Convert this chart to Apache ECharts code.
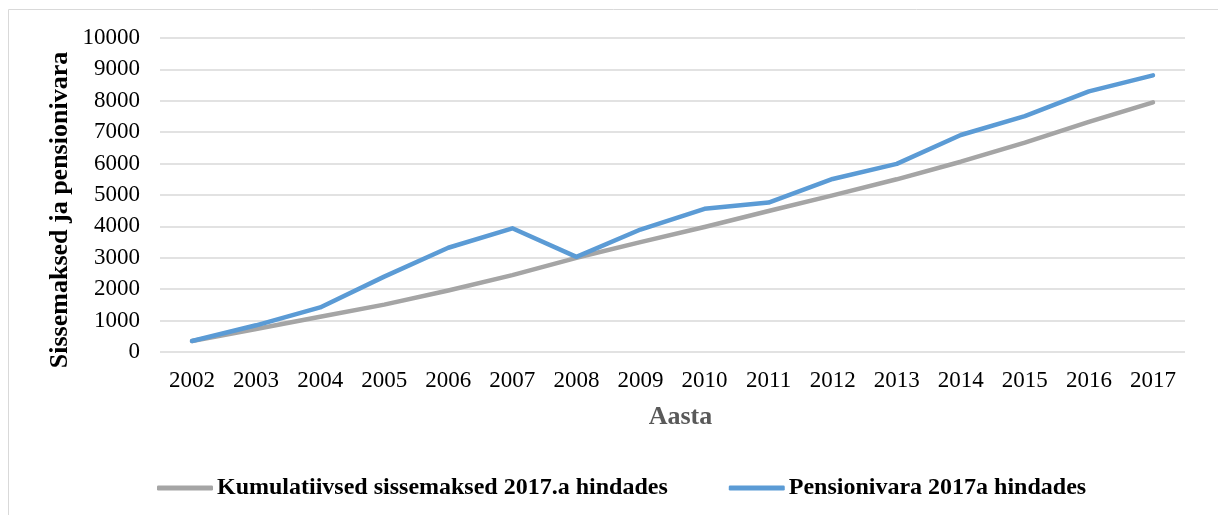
<!DOCTYPE html>
<html>
<head>
<meta charset="utf-8">
<script src="https://cdn.jsdelivr.net/npm/echarts@6/dist/echarts.min.js"></script>
<style>html,body{margin:0;padding:0;background:#fff}#c{width:1218px;height:515px}</style>
</head>
<body>
<div id="c"></div>
<script>
var years = ['2002','2003','2004','2005','2006','2007','2008','2009','2010','2011','2012','2013','2014','2015','2016','2017'];
var sissemaksed = [350, 730, 1120, 1510, 1960, 2450, 3000, 3500, 3980, 4490, 4990, 5500, 6060, 6670, 7330, 7950];
var pensionivara = [350, 850, 1420, 2400, 3320, 3940, 3030, 3900, 4560, 4760, 5510, 5990, 6910, 7510, 8300, 8810];
var yTicks = [0, 1000, 2000, 3000, 4000, 5000, 6000, 7000, 8000, 9000, 10000];

var font = '"Liberation Serif", "Times New Roman", serif';
var chart = echarts.init(document.getElementById('c'));
chart.setOption({
  animation: false,
  graphic: [{
    type: 'rect', silent: true,
    shape: {x: 8.5, y: 9.5, width: 1400, height: 700},
    style: {fill: 'none', stroke: '#d9d9d9', lineWidth: 1}
  }, {
    type: 'text', silent: true,
    x: 60, y: 210, rotation: Math.PI / 2,
    style: {
      text: 'Sissemaksed ja pensionivara',
      font: 'bold 26px "Liberation Serif", "Times New Roman", serif',
      fill: '#000', align: 'center', verticalAlign: 'middle'
    }
  }],
  grid: {left: 160, right: 33, top: 38, bottom: 163},
  legend: {
    left: 152, top: 471,
    itemWidth: 56, itemHeight: 5, itemGap: 61,
    icon: 'roundRect',
    textStyle: {fontFamily: font, fontSize: 24, fontWeight: 'bold', color: '#000', padding: [0,0,0,-1]},
    data: ['Kumulatiivsed sissemaksed 2017.a hindades', 'Pensionivara 2017a hindades']
  },
  xAxis: {
    type: 'category', data: years, boundaryGap: true,
    name: 'Aasta', nameLocation: 'middle', nameGap: 52,
    nameTextStyle: {fontFamily: font, fontSize: 26, fontWeight: 'bold', color: '#595959', padding: [0,0,0,16]},
    axisLine: {show: false}, axisTick: {show: false},
    axisLabel: {fontFamily: font, fontSize: 23, color: '#000', margin: 17}
  },
  yAxis: {
    type: 'value', min: yTicks[0], max: yTicks[yTicks.length-1], interval: 1000,
    axisLine: {show: false}, axisTick: {show: false},
    axisLabel: {fontFamily: font, fontSize: 23, color: '#000', margin: 20, formatter: function (v) { return String(v); }},
    splitLine: {lineStyle: {color: '#d9d9d9', width: 1.5}}
  },
  series: [{
    name: 'Kumulatiivsed sissemaksed 2017.a hindades', type: 'line', data: sissemaksed,
    symbol: 'none', lineStyle: {color: '#a5a5a5', width: 4.5, cap: 'round', join: 'round'},
    itemStyle: {color: '#a5a5a5'}
  }, {
    name: 'Pensionivara 2017a hindades', type: 'line', data: pensionivara,
    symbol: 'none', lineStyle: {color: '#5b9bd5', width: 4.5, cap: 'round', join: 'round'},
    itemStyle: {color: '#5b9bd5'}
  }]
});
</script>
</body>
</html>
